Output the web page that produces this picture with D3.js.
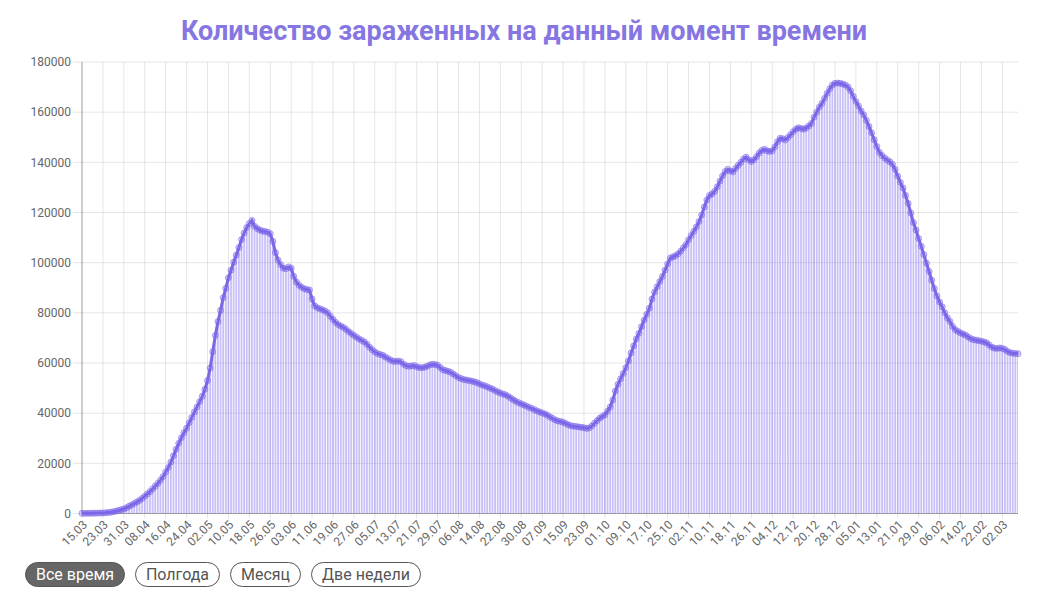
<!DOCTYPE html>
<html>
<head>
<meta charset="utf-8">
<script src="https://cdn.jsdelivr.net/npm/d3@7"></script>
<style>
  body { margin: 0; background: #fff; }
  svg { display: block; font-family: Roboto, "Open Sans", sans-serif; }
</style>
</head>
<body>
<div id="chart"></div>
<script>
// daily active cases, 15.03.2020 .. 08.03.2021
var startDate = new Date(2020, 2, 15)
var tickEvery = 8
var yTicks = [0, 20000, 40000, 60000, 80000, 100000, 120000, 140000, 160000, 180000]
var buttons = ['Все время', 'Полгода', 'Месяц', 'Две недели']
var title = 'Количество зараженных на данный момент времени'

var active = [
    55, 60, 70, 85, 100, 120, 150, 180, 220, 280,
    380, 500, 700, 950, 1250, 1500, 1800, 2300, 2900, 3400,
    4000, 4600, 5200, 6000, 6900, 7800, 8700, 9800, 10900, 12000,
    13300, 14700, 16500, 18300, 20500, 23000, 25600, 28000, 30200, 32200,
    34000, 36200, 38300, 40500, 42500, 44600, 46700, 49500, 53000, 58000,
    64500, 71000, 76500, 81000, 86000, 89800, 94000, 97000, 100200, 103000,
    106000, 109200, 111800, 114000, 115600, 116800, 114500, 113600, 113000, 112600,
    112400, 112200, 111500, 108500, 104000, 101000, 99200, 97800, 97600, 98300,
    97800, 94500, 92300, 91000, 90200, 89600, 89300, 89100, 85500, 82800,
    82000, 81600, 81200, 80700, 80000, 78600, 77400, 76200, 75300, 74700,
    74200, 73400, 72500, 71800, 71000, 70300, 69600, 69000, 68400, 67500,
    66300, 65300, 64400, 63800, 63400, 63100, 62400, 61800, 61200, 60700,
    60600, 60800, 60500, 59500, 58900, 58700, 58800, 59000, 58500, 58200,
    58100, 58300, 58700, 59200, 59500, 59400, 59100, 58200, 57300, 57000,
    56700, 56300, 55600, 54900, 54200, 53800, 53400, 53200, 53000, 52800,
    52500, 52200, 51700, 51200, 50900, 50500, 50000, 49600, 49000, 48500,
    48000, 47600, 47300, 46700, 46000, 45300, 44700, 44200, 43700, 43300,
    42800, 42300, 41900, 41400, 40900, 40500, 40100, 39700, 39200, 38500,
    37900, 37300, 36900, 36700, 36400, 35900, 35400, 35000, 34800, 34700,
    34500, 34400, 34200, 33900, 34100, 34900, 36000, 37000, 38000, 38700,
    39300, 40800, 42500, 45200, 48800, 51500, 53700, 55800, 58100, 60800,
    64000, 66800, 69600, 71800, 74500, 77100, 79400, 81800, 85500, 88300,
    90400, 92500, 94500, 97000, 99500, 101800, 102300, 102800, 103500, 104600,
    105900, 107200, 109100, 110800, 112500, 114300, 116400, 119000, 122200, 125000,
    126800, 127400, 128500, 130300, 132500, 134600, 136300, 137200, 136500, 136200,
    137600, 138800, 140000, 141300, 142100, 141000, 140300, 141000, 142300, 143700,
    144700, 145200, 144600, 144300, 144600, 146200, 148200, 149600, 149400, 148900,
    149900, 151000, 152200, 153200, 153800, 153500, 153200, 153700, 154500, 155500,
    158000, 160000, 162000, 163500, 165500, 167500, 169300, 170800, 171500, 171600,
    171500, 171200, 170800, 170000, 168500, 166300, 164300, 162500, 160500, 158900,
    156700, 154300, 151800, 149000, 146300, 144000, 142700, 141700, 140900, 140200,
    139200, 137200, 134500, 132000, 129800, 126800, 123600, 119800, 116000, 113000,
    109600, 106500, 103200, 99800, 96500, 93000, 89700, 86700, 84300, 82400,
    80000, 78000, 76500, 74600, 73300, 72600, 72000, 71500, 71100, 70300,
    69700, 69300, 69100, 68900, 68700, 68400, 68000, 67200, 66300, 65900,
    65800, 66000, 65800, 65400, 64600, 64100, 63900, 63800, 63700
]

var W = 1046, H = 606
var margins = {top: 62, right: 28, bottom: 92.5, left: 82}
var colors = {
    title: '#8676e2',
    main: '#7b68e6',
    bar: 'rgba(123,104,238,0.42)',
    point: 'rgba(123,104,238,0.3)',
    grid: 'rgba(0,0,0,0.1)',
    axis: 'rgba(0,0,0,0.3)',
    text: '#666'
}

var fmt = d3.timeFormat('%d.%m')
var data = active.map(function(v, i) {
    return {i: i, date: d3.timeDay.offset(startDate, i), value: v}
})

var x = d3.scaleLinear()
    .domain([0, active.length - 1])
    .range([margins.left, W - margins.right])

var y = d3.scaleLinear()
    .domain([0, 180000])
    .range([H - margins.bottom, margins.top])

var svg = d3.select('#chart').append('svg')
    .attr('width', W)
    .attr('height', H)

svg.append('text')
    .attr('x', W / 2 + 1)
    .attr('y', 39.5)
    .attr('text-anchor', 'middle')
    .attr('font-size', 27)
    .attr('font-weight', 700)
    .attr('fill', colors.title)
    .text(title)

svg.append('clipPath').attr('id', 'plot')
    .append('rect')
    .attr('x', margins.left)
    .attr('y', margins.top - 10)
    .attr('width', W - margins.left - margins.right)
    .attr('height', H - margins.bottom - margins.top + 10)

// y grid + labels
var tickIdx = d3.range(0, active.length, tickEvery)

var grid = svg.append('g')
grid.selectAll('.hg')
    .data(yTicks)
    .enter().append('line')
    .attr('x1', margins.left - 9)
    .attr('x2', W - margins.right)
    .attr('y1', function(d) { return y(d) })
    .attr('y2', function(d) { return y(d) })
    .attr('stroke', colors.grid)

grid.selectAll('.vg')
    .data(tickIdx)
    .enter().append('line')
    .attr('x1', function(d) { return x(d) })
    .attr('x2', function(d) { return x(d) })
    .attr('y1', margins.top)
    .attr('y2', H - margins.bottom + 5)
    .attr('stroke', colors.grid)

svg.append('g').selectAll('text')
    .data(yTicks)
    .enter().append('text')
    .attr('x', margins.left - 11)
    .attr('y', function(d) { return y(d) })
    .attr('dy', '0.35em')
    .attr('text-anchor', 'end')
    .attr('font-size', 12)
    .attr('fill', colors.text)
    .text(function(d) { return d })

svg.append('g').selectAll('text')
    .data(tickIdx)
    .enter().append('text')
    .attr('transform', function(d) {
        return 'translate(' + (x(d) + 3) + ',' + (H - margins.bottom + 9) + ') rotate(-45)'
    })
    .attr('dy', '0.35em')
    .attr('text-anchor', 'end')
    .attr('font-size', 12)
    .attr('fill', colors.text)
    .text(function(i) { return fmt(data[i].date) })

// bars
var bw = 1.8
var plot = svg.append('g').attr('clip-path', 'url(#plot)')
plot.selectAll('rect')
    .data(data)
    .enter().append('rect')
    .attr('x', function(d) { return x(d.i) - bw / 2 })
    .attr('width', bw)
    .attr('y', function(d) { return y(d.value) })
    .attr('height', function(d) { return y(0) - y(d.value) })
    .attr('fill', colors.bar)

// axes lines
svg.append('line')
    .attr('x1', margins.left).attr('x2', margins.left)
    .attr('y1', margins.top).attr('y2', H - margins.bottom)
    .attr('stroke', colors.axis)
svg.append('line')
    .attr('x1', margins.left).attr('x2', W - margins.right)
    .attr('y1', H - margins.bottom).attr('y2', H - margins.bottom)
    .attr('stroke', colors.axis)

var line = d3.line()
    .x(function(d) { return x(d.i) })
    .y(function(d) { return y(d.value) })

svg.append('path')
    .datum(data)
    .attr('d', line)
    .attr('fill', 'none')
    .attr('stroke', colors.main)
    .attr('stroke-width', 3)

svg.append('g').selectAll('circle')
    .data(data)
    .enter().append('circle')
    .attr('cx', function(d) { return x(d.i) })
    .attr('cy', function(d) { return y(d.value) })
    .attr('r', 3)
    .attr('fill', colors.point)
    .attr('stroke', colors.main)
    .attr('stroke-opacity', 0.6)
    .attr('stroke-width', 1)

// range buttons
var btnX = [25, 135, 230, 311],
    btnW = [100, 85, 71, 110]
var btn = svg.append('g').selectAll('g')
    .data(buttons)
    .enter().append('g')
    .attr('transform', function(d, i) { return 'translate(' + btnX[i] + ',562)' })

btn.append('rect')
    .attr('x', 0.5).attr('y', 0.5)
    .attr('width', function(d, i) { return btnW[i] - 1 })
    .attr('height', 24)
    .attr('rx', 12)
    .attr('fill', function(d, i) { return i === 0 ? '#666' : '#fff' })
    .attr('stroke', '#555')

btn.append('text')
    .attr('x', function(d, i) { return btnW[i] / 2 })
    .attr('y', 17.5)
    .attr('text-anchor', 'middle')
    .attr('font-size', 16)
    .attr('fill', function(d, i) { return i === 0 ? '#fff' : '#555' })
    .text(function(d) { return d })
</script>
</body>
</html>
